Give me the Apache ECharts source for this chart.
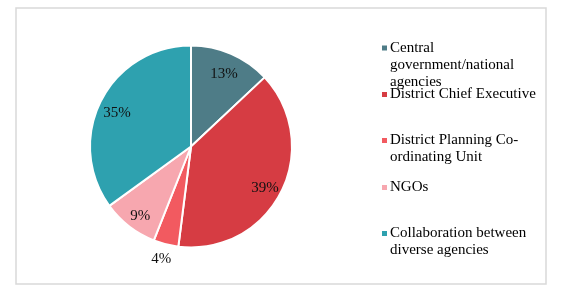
<!DOCTYPE html>
<html>
<head>
<meta charset="utf-8">
<script src="https://cdn.jsdelivr.net/npm/echarts@6/dist/echarts.min.js"></script>
<style>
html,body{margin:0;padding:0;background:#fff;}
#c{width:584px;height:303px;}
</style>
</head>
<body>
<div id="c"></div>
<script>
// ---- data ----
const categories = [
  'Central government/national agencies',
  'District Chief Executive',
  'District Planning Co-ordinating Unit',
  'NGOs',
  'Collaboration between diverse agencies'
];
const legendLines = [
  ['Central', 'government/national', 'agencies'],
  ['District Chief Executive'],
  ['District Planning Co-', 'ordinating Unit'],
  ['NGOs'],
  ['Collaboration between', 'diverse agencies']
];
const values = [13, 39, 4, 9, 35];
const colors = ['#4E7C87', '#D63C43', '#F25A60', '#F7A7AF', '#2EA1AF'];

// ---- chart ----
const chart = echarts.init(document.getElementById('c'));
const FONT = '"Liberation Serif", "Times New Roman", serif';
const pieData = categories.map((n, i) => ({ name: n, value: values[i], itemStyle: { color: colors[i] } }));

const legendTops = [39.5, 86, 132, 179, 225];
const legends = categories.map((n, i) => {
  const rich = {
    t: { fontFamily: FONT, fontSize: 15, lineHeight: 17, color: '#000', padding: [0, 0, 0, 3] },
    sp: { width: 5, lineHeight: 17 }
  };
  rich['m' + i] = { width: 5, height: 5, backgroundColor: colors[i], verticalAlign: 'middle', lineHeight: 17 };
  return {
    orient: 'vertical',
    left: 376,
    top: legendTops[i],
    padding: 0,
    itemWidth: 0,
    itemHeight: 0,
    icon: 'rect',
    data: [n],
    selectedMode: false,
    formatter: function (name) {
      const idx = categories.indexOf(name);
      return legendLines[idx].map((l, k) => (k === 0 ? '{m' + idx + '| }' : '{sp| }') + '{t|' + l + '}').join('\n');
    },
    textStyle: { rich: rich, fontFamily: FONT, fontSize: 15, lineHeight: 17 }
  };
});

chart.setOption({
  animation: false,
  backgroundColor: '#fff',
  graphic: [{
    type: 'rect',
    shape: { x: 16, y: 8, width: 530, height: 276 },
    style: { fill: 'none', stroke: '#d9d9d9', lineWidth: 1.5 },
    silent: true
  }],
  legend: legends,
  series: [
    {
      type: 'pie',
      center: [191, 146.5],
      radius: [0, 101],
      startAngle: 90,
      clockwise: true,
      data: pieData,
      label: { show: false },
      labelLine: { show: false },
      itemStyle: { borderColor: '#fff', borderWidth: 2 },
      silent: true
    },
    {
      type: 'pie',
      center: [191, 146.5],
      radius: [59, 101],
      startAngle: 90,
      clockwise: true,
      avoidLabelOverlap: false,
      silent: true,
      data: categories.map((n, i) => {
        const d = { name: n, value: values[i], itemStyle: { color: 'rgba(0,0,0,0)' } };
        if (i === 2) {
          d.label = { position: 'outside', distanceToLabelLine: -8 };
          d.labelLine = { show: false, length: 11, length2: 0 };
        }
        return d;
      }),
      itemStyle: { color: 'rgba(0,0,0,0)', borderWidth: 0 },
      label: {
        show: true,
        position: 'inside',
        formatter: '{s| }\n{v|{c}%}',
        fontFamily: FONT,
        fontSize: 15,
        color: '#111',
        rich: {
          s: { fontSize: 1, lineHeight: 8 },
          v: { fontFamily: FONT, fontSize: 15, lineHeight: 17, color: '#111' }
        }
      },
      labelLine: { show: false }
    }
  ]
});
</script>
</body>
</html>
